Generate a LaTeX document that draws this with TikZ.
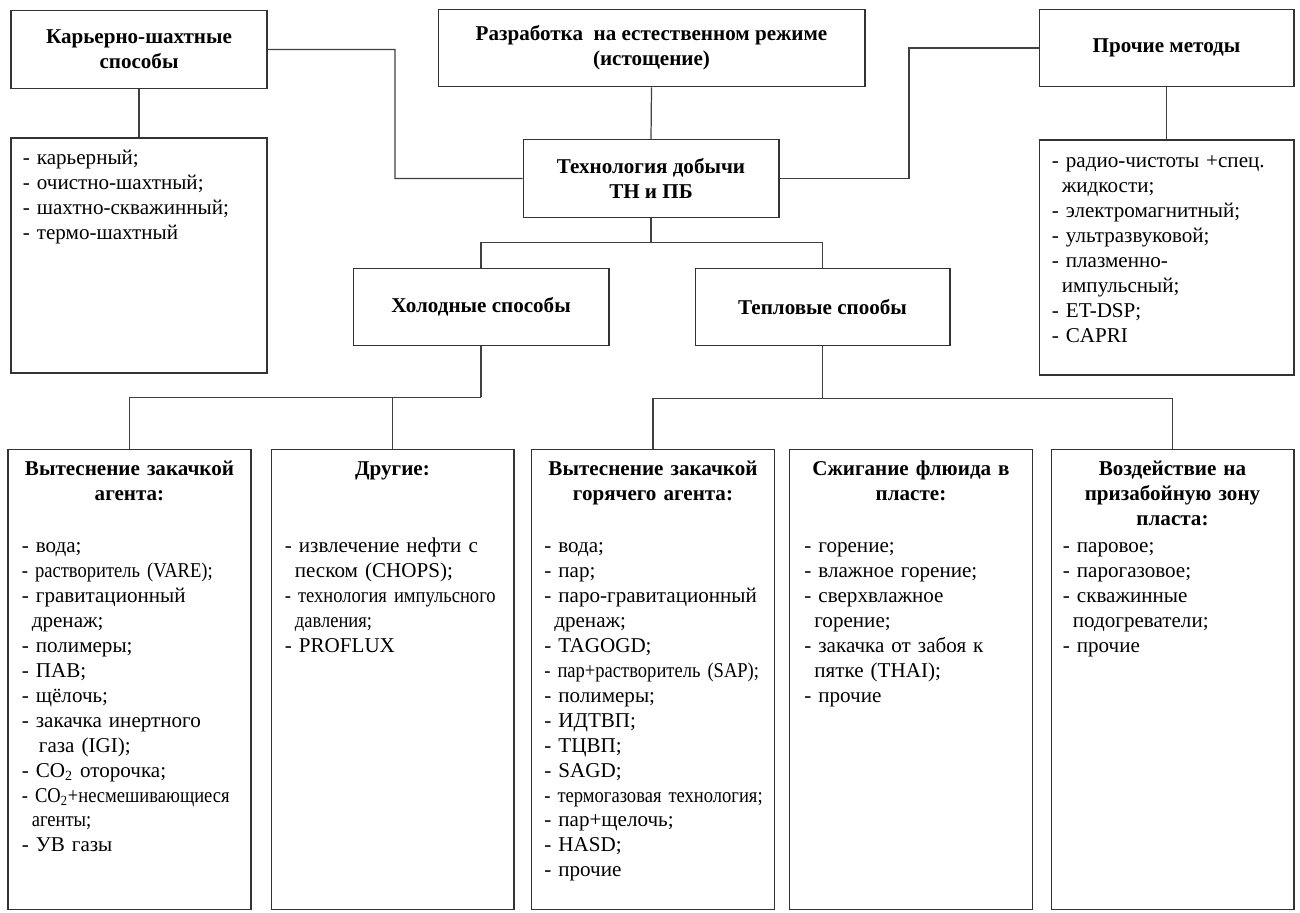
\documentclass[tikz,border=0pt]{standalone}
\usepackage{fontspec}
\setmainfont{Liberation Serif}
\newfontfamily\narrowfont[FakeStretch=0.88]{Liberation Serif}
\usetikzlibrary{calc}
\newcommand{\txtfont}{\fontsize{12}{14.2}\selectfont}
\newcommand{\ind}{\hspace*{0.2cm}}

\begin{document}
\begin{tikzpicture}[x=0.02cm, y=-0.02cm,
  hdr/.style={rectangle, draw=black!80, line width=0.6pt,
              minimum width=5.12cm, minimum height=1.55cm,
              align=center, font=\txtfont\bfseries},
  lbox/.style={rectangle, draw=black!80, line width=0.6pt, inner sep=0pt},
  bbox/.style={lbox, minimum width=4.86cm, minimum height=9.22cm},
  ttl/.style={anchor=base, text width=4.7cm, align=center, inner sep=0pt,
              font=\txtfont\bfseries},
  ltxt/.style={anchor=base west, text width=4.8cm, align=left, inner sep=0pt,
               font=\txtfont},
  conn/.style={draw=black!75, line width=0.7pt}
]
\useasboundingbox (0,0) rectangle (1300,912);

%% --- верхний ряд ---------------------------------------------
\node[hdr]                     (K1) at (139,49.5)   {Карьерно-шахтные\\способы};
\node[lbox, minimum width=5.12cm, minimum height=4.70cm]
                               (K2) at (139,255.5)  {};
\node[hdr, minimum width=8.54cm] (R) at (651.5,48)  {Разработка\ \ на естественном режиме\\(истощение)};
\node[hdr]                     (T)  at (651,178.5)  {Технология добычи\\ТН и ПБ};
\node[hdr, minimum width=5.10cm] (P1) at (1166.5,48) {Прочие методы};
\node[lbox, minimum width=5.10cm, minimum height=4.70cm]
                               (P2) at (1166.5,257.5) {};
\node[hdr]                     (X)  at (481,307)    {Холодные способы};
\node[hdr, minimum width=5.10cm] (Y) at (822.5,307) {Тепловые спообы};

\node[ltxt] (K2t) at ($(K2.north west)+(12,27)$)
  {- карьерный;\\- очистно-шахтный;\\- шахтно-скважинный;\\- термо-шахтный};
\node[ltxt] (P2t) at ($(P2.north west)+(13,28)$)
  {- радио-чистоты +спец.\\\ind жидкости;\\- электромагнитный;\\- ультразвуковой;\\
   - плазменно-\\\ind импульсный;\\- ET-DSP;\\- CAPRI};

%% --- нижний ряд ----------------------------------------------
\node[bbox] (A) at (129.5,679.5)  {};
\node[bbox] (B) at (392.5,679.5)  {};
\node[bbox] (C) at (653,679.5)    {};
\node[bbox] (D) at (911,679.5)    {};
\node[bbox] (E) at (1172.5,679.5) {};

\node[ttl] (At) at ($(A.north)+(0,27)$) {Вытеснение закачкой\\агента:};
\node[ttl] (Bt) at ($(B.north)+(0,27)$) {Другие:};
\node[ttl] (Ct) at ($(C.north)+(0,27)$) {Вытеснение закачкой\\горячего агента:};
\node[ttl] (Dt) at ($(D.north)+(0,27)$) {Сжигание флюида в\\пласте:};
\node[ttl] (Et) at ($(E.north)+(0,27)$) {Воздействие на\\призабойную зону\\пласта:};

\node[ltxt] (Al) at ($(A.north west)+(14,104)$)
  {- вода;\\{\narrowfont - растворитель (VARE);}\\- гравитационный\\\ind дренаж;\\
   - полимеры;\\- ПАВ;\\- щёлочь;\\- закачка инертного\\\ind\ газа (IGI);\\
   - CO\textsubscript{2} оторочка;\\{\narrowfont - CO\textsubscript{2}+несмешивающиеся}\\
   {\narrowfont\ind агенты;}\\- УВ газы};
\node[ltxt] (Bl) at ($(B.north west)+(14,104)$)
  {- извлечение нефти с\\\ind песком (CHOPS);\\
   {\narrowfont - технология импульсного}\\{\narrowfont\ind давления;}\\- PROFLUX};
\node[ltxt] (Cl) at ($(C.north west)+(13,104)$)
  {- вода;\\- пар;\\- паро-гравитационный\\\ind дренаж;\\- TAGOGD;\\
   {\narrowfont - пар+растворитель (SAP);}\\- полимеры;\\- ИДТВП;\\- ТЦВП;\\- SAGD;\\
   {\narrowfont - термогазовая технология;}\\- пар+щелочь;\\- HASD;\\- прочие};
\node[ltxt] (Dl) at ($(D.north west)+(15,104)$)
  {- горение;\\- влажное горение;\\- сверхвлажное\\\ind горение;\\
   - закачка от забоя к\\\ind пятке (THAI);\\- прочие};
\node[ltxt] (El) at ($(E.north west)+(12,104)$)
  {- паровое;\\- парогазовое;\\- скважинные\\\ind подогреватели;\\- прочие};

%% --- связи ---------------------------------------------------
\coordinate (tb) at ($(T.south)+(0,25)$);
\coordinate (xb) at ($(X.south)+(0,51)$);
\coordinate (yb) at ($(Y.south)+(0,52)$);

\draw[conn] (K1.south) -- (K2.north);
\draw[conn] (P1.south) -- (P2.north);
\draw[conn] (R.south) -- (T.north);
\draw[conn] (K1.east) -- ($(K1.east)!0.5!(K1.east -| T.west)$) |- (T.west);
\draw[conn] (P1.west) -- ($(P1.west)!0.5!(P1.west -| T.east)$) |- (T.east);
\draw[conn] (T.south) -- (tb);
\draw[conn] (X.north) |- (tb) -| (Y.north);
\draw[conn] (X.south) -- (xb);
\draw[conn] (A.north) |- (xb);
\draw[conn] (B.north) -- (B.north |- xb);
\draw[conn] (Y.south) -- (yb);
\draw[conn] (C.north) |- (yb) -| (E.north);

\end{tikzpicture}
\end{document}
